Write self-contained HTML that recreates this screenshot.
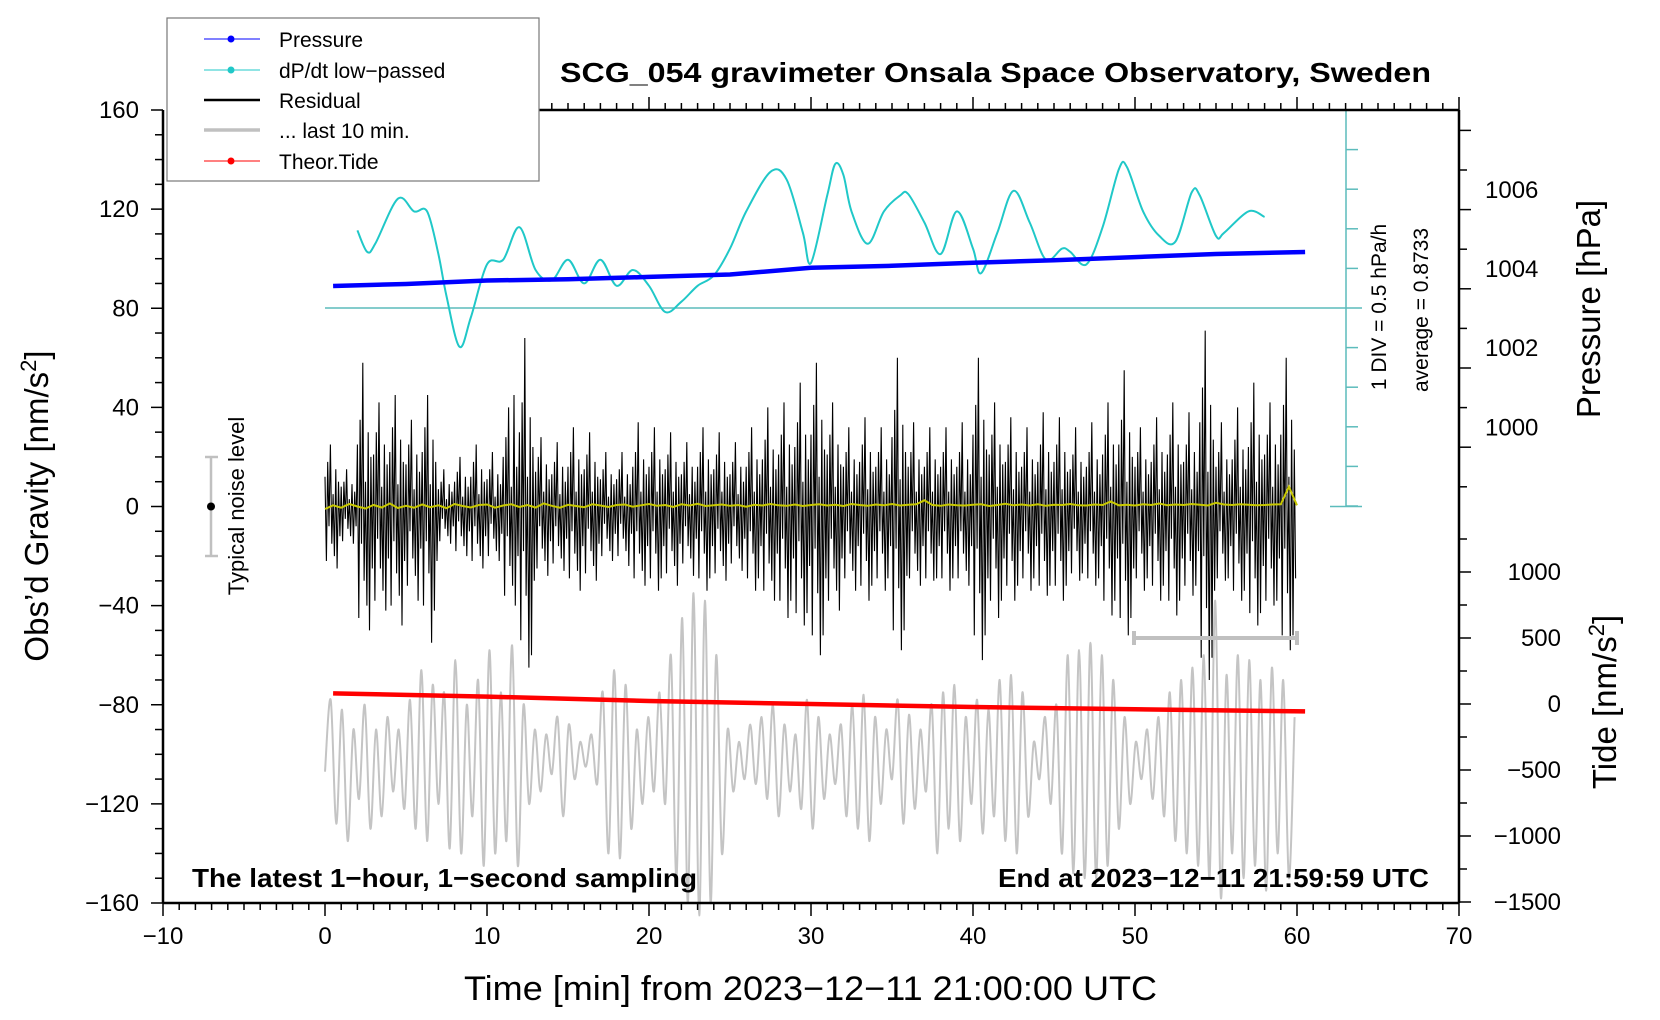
<!DOCTYPE html>
<html><head><meta charset="utf-8"><title>SCG_054 gravimeter</title>
<style>html,body{margin:0;padding:0;background:#fff}svg{display:block;font-family:"Liberation Sans",Arial,sans-serif}</style>
</head><body>
<svg id="chart" width="1660" height="1020" viewBox="0 0 1660 1020" xmlns="http://www.w3.org/2000/svg">
<rect width="1660" height="1020" fill="#fff"/>
<g id="marks"></g>
<g id="axes"></g>
<text x="560" y="82" font-size="28" font-weight="bold" textLength="871" lengthAdjust="spacingAndGlyphs">SCG_054 gravimeter Onsala Space Observatory, Sweden</text>
<text x="192" y="887" font-size="26" font-weight="bold" textLength="505" lengthAdjust="spacingAndGlyphs">The latest 1−hour, 1−second sampling</text>
<text x="998" y="887" font-size="26" font-weight="bold" textLength="431" lengthAdjust="spacingAndGlyphs">End at 2023−12−11 21:59:59 UTC</text>
<text x="464" y="1000" font-size="34" textLength="693" lengthAdjust="spacingAndGlyphs">Time [min] from 2023−12−11 21:00:00 UTC</text>
<text transform="translate(48,506) rotate(-90)" text-anchor="middle" font-size="33">Obs’d Gravity [nm/s<tspan font-size="22" dy="-12">2</tspan><tspan dy="12">]</tspan></text>
<text transform="translate(1600,309) rotate(-90)" text-anchor="middle" font-size="33">Pressure [hPa]</text>
<text transform="translate(1616,702) rotate(-90)" text-anchor="middle" font-size="33">Tide [nm/s<tspan font-size="22" dy="-12">2</tspan><tspan dy="12">]</tspan></text>
<text transform="translate(1386,307) rotate(-90)" text-anchor="middle" font-size="21">1 DIV = 0.5 hPa/h</text>
<text transform="translate(1428,310) rotate(-90)" text-anchor="middle" font-size="21">average = 0.8733</text>
<g>
<line x1="211" y1="457" x2="211" y2="556" stroke="#c0c0c0" stroke-width="2.5"/>
<line x1="205" y1="457" x2="218" y2="457" stroke="#c0c0c0" stroke-width="2.5"/>
<line x1="205" y1="556" x2="218" y2="556" stroke="#c0c0c0" stroke-width="2.5"/>
<circle cx="211" cy="506.5" r="4" fill="#000"/>
<text transform="translate(244,506) rotate(-90)" text-anchor="middle" font-size="22">Typical noise level</text>
</g>
<g>
<line x1="1134" y1="638" x2="1297" y2="638" stroke="#c0c0c0" stroke-width="4"/>
<line x1="1134" y1="631" x2="1134" y2="645" stroke="#c0c0c0" stroke-width="4"/>
<line x1="1297" y1="631" x2="1297" y2="645" stroke="#c0c0c0" stroke-width="4"/>
</g>
<g>
<rect x="167" y="18" width="372" height="163" fill="#fff" stroke="#777" stroke-width="1.2"/>
<g><line x1="204" y1="39" x2="260" y2="39" stroke="#0000ff" stroke-width="1"/><circle cx="231" cy="39" r="3.5" fill="#0000ff"/><text x="279" y="47" font-size="21">Pressure</text></g>
<g><line x1="204" y1="70" x2="260" y2="70" stroke="#20c8c8" stroke-width="1"/><circle cx="231" cy="70" r="3.5" fill="#20c8c8"/><text x="279" y="78" font-size="21">dP/dt low−passed</text></g>
<g><line x1="204" y1="100" x2="260" y2="100" stroke="#000" stroke-width="2.5"/><text x="279" y="108" font-size="21">Residual</text></g>
<g><line x1="204" y1="130" x2="260" y2="130" stroke="#c0c0c0" stroke-width="3.5"/><text x="279" y="138" font-size="21">... last 10 min.</text></g>
<g><line x1="204" y1="161" x2="260" y2="161" stroke="#ff0000" stroke-width="1"/><circle cx="231" cy="161" r="3.5" fill="#ff0000"/><text x="279" y="169" font-size="21">Theor.Tide</text></g>
</g>
</svg>
<script>
// ---- data ----
const xTicks = [-10,0,10,20,30,40,50,60,70];
const yTicks = [160,120,80,40,0,-40,-80,-120,-160];
const pressureTicks = [1000,1002,1004,1006];
const tideTicks = [1000,500,0,-500,-1000,-1500];
const residualStep = 5/60; // minutes per sample
const residual = [
12,-22,18,-8,25,-15,5,-20,15,-25,10,-12,
8,-14,10,-5,15,-9,3,-12,9,-15,6,-8,
25,-45,35,-15,58,-30,10,-40,30,-50,20,-25,
21,-38,30,-13,42,-25,8,-34,25,-42,17,-21,
22,-40,32,-14,45,-27,9,-36,27,-48,18,-22,
17,-32,25,-10,35,-21,7,-28,21,-38,14,-17,
22,-40,32,-14,45,-27,9,-55,27,-42,18,-22,
7,-14,10,-5,15,-9,3,-12,9,-15,6,-8,
10,-18,14,-6,20,-12,4,-16,12,-20,8,-10,
12,-22,18,-8,25,-15,5,-20,15,-25,10,-12,
11,-20,15,-7,22,-13,4,-18,13,-22,9,-11,
20,-36,28,-12,40,-24,8,-32,45,-40,16,-20,
30,-54,42,-18,68,-36,12,-65,36,-60,24,-30,
14,-25,20,-8,28,-17,6,-22,17,-28,11,-14,
13,-23,18,-8,26,-16,5,-21,16,-26,10,-13,
16,-29,22,-10,32,-19,6,-26,19,-34,13,-16,
15,-27,21,-9,30,-18,6,-24,18,-30,12,-15,
11,-20,15,-7,22,-13,4,-18,13,-22,9,-11,
11,-20,15,-7,22,-13,4,-18,13,-24,9,-11,
16,-29,22,-10,34,-19,6,-26,19,-32,13,-16,
16,-29,22,-10,32,-19,6,-34,19,-29,13,-16,
15,-27,21,-9,30,-18,6,-24,18,-32,12,-15,
13,-23,18,-8,26,-16,5,-21,16,-28,10,-13,
16,-29,22,-10,32,-19,6,-34,19,-29,13,-16,
15,-27,21,-9,30,-18,6,-24,18,-30,12,-15,
13,-23,18,-8,26,-16,5,-21,16,-26,10,-13,
16,-29,22,-10,32,-19,6,-34,19,-29,13,-16,
19,-34,27,-11,40,-23,8,-30,23,-38,15,-19,
21,-38,29,-13,42,-25,8,-45,25,-38,17,-21,
24,-43,34,-14,50,-29,10,-48,29,-43,19,-24,
29,-52,41,-17,58,-35,12,-60,35,-52,23,-29,
21,-38,29,-13,42,-25,8,-34,25,-42,17,-21,
16,-29,22,-10,32,-19,6,-26,19,-34,13,-16,
18,-32,25,-11,36,-22,7,-38,22,-32,14,-18,
16,-29,22,-10,32,-19,6,-34,19,-29,13,-16,
28,-50,39,-17,60,-33,11,-58,33,-50,22,-28,
16,-29,22,-10,34,-19,6,-26,19,-32,13,-16,
16,-29,22,-10,32,-19,6,-30,19,-29,13,-16,
16,-29,22,-10,32,-19,6,-34,19,-29,13,-16,
16,-29,22,-10,34,-19,6,-26,19,-32,13,-16,
29,-52,41,-17,60,-35,12,-62,35,-52,23,-29,
21,-38,29,-13,42,-25,8,-45,25,-38,17,-21,
18,-32,25,-11,36,-22,7,-38,22,-32,14,-18,
16,-29,22,-10,32,-19,6,-34,19,-29,13,-16,
18,-32,25,-11,38,-22,7,-36,22,-32,14,-18,
18,-32,25,-11,36,-22,7,-38,22,-32,14,-18,
15,-27,21,-9,32,-18,6,-30,18,-27,12,-15,
16,-29,22,-10,34,-19,6,-32,19,-29,13,-16,
21,-38,29,-13,42,-25,8,-44,25,-38,17,-21,
25,-45,35,-15,55,-30,10,-52,30,-45,20,-25,
16,-29,22,-10,32,-19,6,-34,19,-29,13,-16,
18,-32,25,-11,36,-22,7,-38,22,-32,14,-18,
21,-38,29,-13,42,-25,8,-44,25,-38,17,-21,
18,-32,25,-11,38,-22,7,-36,22,-32,14,-18,
34,-61,48,-20,71,-41,14,-70,41,-61,27,-34,
16,-29,22,-10,34,-19,6,-30,19,-29,13,-16,
19,-34,27,-11,40,-23,8,-38,23,-34,15,-19,
24,-43,34,-14,50,-29,10,-48,29,-43,19,-24,
21,-38,29,-13,42,-25,8,-40,25,-38,17,-21,
29,-52,41,-17,60,-35,12,-58,35,-52,23,-29
];
const smoothStep = 0.5;
const smoothed = [
-1,0.5,-0.5,1,0,-0.8,0.6,-0.4,1.2,-0.6,0.3,-0.5,0.8,-0.3,0.5,-0.7,1,0.2,-0.4,0.6,
0.8,-0.5,0.4,0.9,-0.2,0.6,-0.4,1.2,0.3,-0.5,0.7,0.2,-0.3,0.9,0.4,-0.2,0.6,0.8,-0.1,0.5,
1,0.3,0.6,-0.2,0.9,0.4,1.1,0.2,0.5,0.8,0.3,0.6,-0.1,0.7,0.4,1,0.5,0.3,0.8,0.2,
0.6,0.9,0.4,0.7,0.2,1,0.6,0.3,0.8,0.5,1,0.4,0.7,0.9,2.5,0.6,0.3,0.8,0.5,0.4,
0.7,0.9,0.2,0.6,1.1,0.5,0.8,0.4,0.9,0.3,0.7,0.6,1,0.5,0.4,0.8,0.6,2,0.5,0.7,
0.4,0.9,0.6,1.2,0.5,0.8,0.6,1,0.7,0.4,1.5,0.8,0.6,0.9,0.7,0.5,0.6,0.8,0.9,8,0.5
];
const grayStep = 0.35;
const lastTen = [
-107,-78,-128,-82,-135,-90,-118,-80,-130,
-90,-125,-85,-115,-90,-122,-78,-130,-66,
-135,-72,-120,-75,-138,-62,-140,-80,-125,
-70,-145,-58,-140,-75,-135,-56,-145,-80,
-120,-90,-115,-92,-108,-85,-125,-88,-110,
-95,-105,-92,-112,-75,-140,-66,-142,-72,
-130,-90,-120,-85,-115,-75,-120,-60,-150,
-45,-160,-35,-165,-38,-160,-60,-140,-90,
-115,-95,-110,-88,-112,-85,-118,-80,-125,
-88,-115,-92,-122,-78,-130,-85,-118,-92,
-112,-88,-125,-80,-130,-76,-135,-85,-120,
-90,-110,-78,-128,-84,-122,-90,-115,-80,
-140,-75,-130,-72,-135,-85,-120,-78,-132,
-82,-125,-70,-135,-68,-140,-75,-125,-95,
-110,-85,-120,-80,-140,-60,-148,-58,-150,
-55,-150,-60,-145,-70,-130,-85,-120,-95,
-110,-90,-118,-85,-125,-75,-135,-70,-140,
-65,-145,-60,-150,-38,-158,-68,-140,-60,
-150,-62,-145,-70,-155,-65,-140,-70,-150,-85
];
const pressureTimes = [0.5,5,10,15,20,25,30,35,40,45,50,55,60.5];
const pressureValues = [1003.57,1003.62,1003.71,1003.74,1003.80,1003.86,1004.03,1004.08,1004.16,1004.22,1004.30,1004.38,1004.43];
const tideTimes = [0.5,10,20,30,40,50,60.5];
const tideValues = [80,56,23,0,-23,-40,-56];
const dpdtTimes = [2,2.6,3.1,4.5,5.5,6.3,7,7.5,8.3,9,10,11,12,13,14,15,16,17,18,19,20,21,22,23,24,25,26,27.5,28.5,29.5,30,31,31.5,32,32.5,33.5,34.5,35.5,36,37,38,39,40,40.5,41.5,42.5,43.5,44.5,45.5,46,47,48,49,49.5,50.5,51.5,52.5,53.5,54,55,55.5,57,58];
const dpdtValues = [0.98,0.71,0.81,1.38,1.22,1.22,0.68,0.15,-0.49,-0.12,0.55,0.61,1.02,0.48,0.35,0.61,0.31,0.61,0.28,0.48,0.28,-0.05,0.08,0.28,0.41,0.75,1.22,1.72,1.62,0.95,0.57,1.42,1.82,1.68,1.22,0.81,1.22,1.42,1.44,1.08,0.68,1.22,0.75,0.44,0.95,1.48,1.08,0.61,0.75,0.71,0.55,1.02,1.75,1.78,1.22,0.91,0.84,1.46,1.42,0.91,0.95,1.22,1.15];

// ---- scales ----
const X0=163, X1=1459, Y0=110, Y1=903;
const xs = t => X0 + (t+10)/80*(X1-X0);
const ys = g => Y1 - (g+160)/320*(Y1-Y0);
const yp = p => 269 - (p-1004)*39.6;
const yt = v => 704 - v/500*66;
const yd = v => 308 - v/0.5*39.6;
const NS='http://www.w3.org/2000/svg';
const marks=document.getElementById('marks'), axes=document.getElementById('axes');
function mk(tag, attrs, parent){const e=document.createElementNS(NS,tag);for(const k in attrs)e.setAttribute(k,attrs[k]);parent.appendChild(e);return e;}
function poly(pts){return pts.map((p,i)=>(i?'L':'M')+p[0].toFixed(1)+' '+p[1].toFixed(1)).join('');}
function smooth(pts){let d='M'+pts[0][0]+' '+pts[0][1];for(let i=0;i<pts.length-1;i++){const p0=pts[Math.max(0,i-1)],p1=pts[i],p2=pts[i+1],p3=pts[Math.min(pts.length-1,i+2)];d+='C'+(p1[0]+(p2[0]-p0[0])/6).toFixed(1)+' '+(p1[1]+(p2[1]-p0[1])/6).toFixed(1)+' '+(p2[0]-(p3[0]-p1[0])/6).toFixed(1)+' '+(p2[1]-(p3[1]-p1[1])/6).toFixed(1)+' '+p2[0].toFixed(1)+' '+p2[1].toFixed(1);}return d;}

let e=mk('path',{d:smooth(lastTen.map((v,i)=>[xs(i*grayStep),ys(v)])),fill:'none',stroke:'#c4c4c4','stroke-width':2},marks);


e=mk('path',{d:poly(residual.map((v,i)=>[xs(i*residualStep),ys(v)])),fill:'none',stroke:'#000','stroke-width':1.1},marks);


e=mk('path',{d:poly(smoothed.map((v,i)=>[xs(i*smoothStep),ys(v)])),fill:'none',stroke:'#c8c800','stroke-width':2},marks);


const cx=1346;
e=mk('g',{},marks);


mk('line',{x1:cx,y1:Y0,x2:cx,y2:506.5,stroke:'#5cbcbc','stroke-width':1.5},e);
for(let v=0.5;v<=2.01;v+=0.5){const yy=yd(v);mk('line',{x1:cx,y1:yy,x2:cx+12,y2:yy,stroke:'#5cbcbc','stroke-width':1.5},e);}
for(let v=-0.5;v>=-2.51;v-=0.5){const yy=yd(v);mk('line',{x1:cx,y1:yy,x2:cx+12,y2:yy,stroke:'#5cbcbc','stroke-width':1.5},e);}
mk('line',{x1:cx-16,y1:Y0,x2:cx+16,y2:Y0,stroke:'#5cbcbc','stroke-width':1.5},e);
mk('line',{x1:cx-16,y1:506.5,x2:cx+16,y2:506.5,stroke:'#5cbcbc','stroke-width':1.5},e);
e=mk('line',{x1:xs(0),y1:yd(0),x2:cx+16,y2:yd(0),stroke:'#5cbcbc','stroke-width':1.5},marks);


e=mk('path',{d:smooth(dpdtTimes.map((t,i)=>[xs(t),yd(dpdtValues[i])])),fill:'none',stroke:'#20c8c8','stroke-width':2},marks);


e=mk('path',{d:poly(pressureTimes.map((t,i)=>[xs(t),yp(pressureValues[i])])),fill:'none',stroke:'#0000ff','stroke-width':4.5},marks);


e=mk('path',{d:poly(tideTimes.map((t,i)=>[xs(t),yt(tideValues[i])])),fill:'none',stroke:'#ff0000','stroke-width':4.5},marks);



// ---- axes ----
const frame=mk('g',{},axes);


mk('line',{x1:X0,y1:Y0,x2:X0,y2:Y1,stroke:'#000','stroke-width':2.5},frame);
mk('line',{x1:X0,y1:Y1,x2:X1,y2:Y1,stroke:'#000','stroke-width':2.5},frame);
mk('line',{x1:X1,y1:Y0,x2:X1,y2:Y1,stroke:'#000','stroke-width':2.5},frame);
mk('line',{x1:539,y1:Y0,x2:X1,y2:Y0,stroke:'#000','stroke-width':2.5},frame);
for(let t=-10;t<=70;t++){const x=xs(t);const maj=t%10===0;
 mk('line',{x1:x,y1:Y1,x2:x,y2:Y1+(maj?13:7),stroke:'#000','stroke-width':1.5},frame);
 if(x>539)mk('line',{x1:x,y1:Y0,x2:x,y2:Y0-(maj?13:7),stroke:'#000','stroke-width':1.5},frame);}
for(let g=-160;g<=160;g+=10){const y=ys(g);mk('line',{x1:X0,y1:y,x2:X0-(g%40===0?12:8),y2:y,stroke:'#000','stroke-width':1.5},frame);}
for(let p=998.5;p<=1007.9;p+=1){const y=yp(p);if(y>=Y0&&y<=506)mk('line',{x1:X1,y1:y,x2:X1+(Math.round(p)%2===0?12:8),y2:y,stroke:'#000','stroke-width':1.5},frame);}
for(let v=-1500;v<=1250;v+=250){const y=yt(v);if(y>=520&&y<=Y1)mk('line',{x1:X1,y1:y,x2:X1+(v%500===0?12:8),y2:y,stroke:'#000','stroke-width':1.5},frame);}
xTicks.forEach(t=>{const el=mk('text',{x:xs(t),y:944,'text-anchor':'middle','font-size':24},axes);el.textContent=t<0?'−'+(-t):String(t);

});
yTicks.forEach(g=>{const el=mk('text',{x:139,y:ys(g)+8,'text-anchor':'end','font-size':24},axes);el.textContent=g<0?'−'+(-g):String(g);

});
pressureTicks.forEach(p=>{const el=mk('text',{x:1485,y:yp(p)+8,'font-size':24},axes);el.textContent=String(p);

});
tideTicks.forEach(v=>{const el=mk('text',{x:1561,y:yt(v)+8,'text-anchor':'end','font-size':24},axes);el.textContent=v<0?'−'+(-v):String(v);

});
</script>
</body></html>
